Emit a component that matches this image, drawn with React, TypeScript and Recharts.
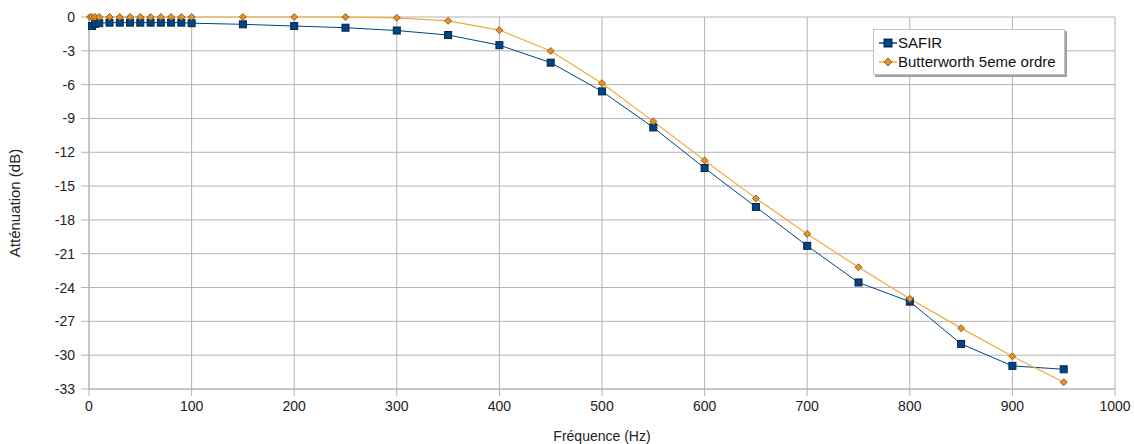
import { LineChart, Line, XAxis, YAxis, CartesianGrid } from 'recharts';

// Measured response of the SAFIR filter
const safirFreq = [3, 6, 10, 20, 30, 40, 50, 60, 70, 80, 90, 100, 150, 200, 250, 300, 350, 400, 450, 500, 550, 600, 650, 700, 750, 800, 850, 900, 950];
const safirDb = [-0.8, -0.6, -0.55, -0.5, -0.5, -0.5, -0.5, -0.5, -0.5, -0.5, -0.5, -0.55, -0.65, -0.8, -0.95, -1.2, -1.6, -2.5, -4.05, -6.6, -9.8, -13.4, -16.85, -20.3, -23.55, -25.25, -29.0, -30.95, -31.25];

// Reference 5th order Butterworth curve
const bwFreq = [1, 3, 6, 10, 20, 30, 40, 50, 60, 70, 80, 90, 100, 150, 200, 250, 300, 350, 400, 450, 500, 550, 600, 650, 700, 750, 800, 850, 900, 950];
const bwDb = [0, 0, 0, 0, 0, 0, 0, 0, 0, 0, 0, 0, 0, 0, 0, -0.01, -0.07, -0.34, -1.17, -3.01, -5.87, -9.26, -12.73, -16.09, -19.24, -22.2, -25.0, -27.6, -30.1, -32.4];

const xTicks = [0, 100, 200, 300, 400, 500, 600, 700, 800, 900, 1000];
const yTicks = [0, -3, -6, -9, -12, -15, -18, -21, -24, -27, -30, -33];

const safirData = safirFreq.map((f, i) => ({ f, db: safirDb[i] }));
const bwData = bwFreq.map((f, i) => ({ f, db: bwDb[i] }));

const FONT = '"Liberation Sans", Arial, sans-serif';
const GRID = '#b3b3b3';
const NAVY = '#004586';
const ORANGE = '#f2a93f';

const SquareDot = (props: any) => {
  const { cx, cy, index } = props;
  if (cx == null || cy == null) return null;
  return <rect key={`s-${index}`} x={cx - 3.5} y={cy - 3.5} width={7} height={7} fill={NAVY} stroke="#0a2440" strokeWidth={1} />;
};

const DiamondDot = (props: any) => {
  const { cx, cy, index } = props;
  if (cx == null || cy == null) return null;
  return (
    <path
      key={`d-${index}`}
      d={`M${cx},${cy - 3.5} L${cx + 3.5},${cy} L${cx},${cy + 3.5} L${cx - 3.5},${cy} Z`}
      fill="#e8902a"
      stroke="#7a4a10"
      strokeWidth={0.8}
    />
  );
};

// legend drawn as an overlay so the plot keeps its full width
const LegendBox = () => (
  <div
    style={{
      position: 'absolute',
      left: 873,
      top: 29,
      background: '#fff',
      border: '1px solid #c4c4c4',
      boxShadow: '2px 2px 0 #a0a0a0',
      padding: '3px 8px 3px 5px',
      fontFamily: FONT,
      fontSize: 15,
      color: '#111',
      lineHeight: '19px',
    }}
  >
    <div style={{ display: 'flex', alignItems: 'center' }}>
      <svg width={18} height={10} style={{ marginRight: 1 }}>
        <line x1={0} y1={5} x2={18} y2={5} stroke={NAVY} strokeWidth={1.5} />
        <rect x={5} y={1} width={8} height={8} fill={NAVY} stroke="#0a2440" />
      </svg>
      SAFIR
    </div>
    <div style={{ display: 'flex', alignItems: 'center' }}>
      <svg width={18} height={10} style={{ marginRight: 1 }}>
        <line x1={0} y1={5} x2={18} y2={5} stroke={ORANGE} strokeWidth={1.5} />
        <path d="M9,1 L13,5 L9,9 L5,5 Z" fill="#e8902a" stroke="#7a4a10" strokeWidth={0.8} />
      </svg>
      Butterworth 5eme ordre
    </div>
  </div>
);

export default function App() {
  return (
    <div style={{ position: 'fixed', left: 0, top: 0, width: 1134, height: 444, background: '#fff' }}>
      <LineChart width={1134} height={444} margin={{ top: 17, right: 19, left: 0, bottom: 0 }}>
        <CartesianGrid stroke={GRID} strokeWidth={1} horizontal vertical />
        <XAxis
          type="number"
          dataKey="f"
          domain={[0, 1000]}
          ticks={xTicks}
          allowDuplicatedCategory={false}
          height={55}
          tickSize={7}
          tickMargin={5}
          axisLine={{ stroke: GRID }}
          tickLine={{ stroke: GRID }}
          tick={{ fill: '#222', fontSize: 14, fontFamily: FONT }}
          label={{ value: 'Fréquence (Hz)', position: 'insideBottom', offset: 3, fill: '#222', fontSize: 14, fontFamily: FONT }}
        />
        <YAxis
          type="number"
          dataKey="db"
          domain={[-33, 0]}
          ticks={yTicks}
          width={89}
          tickSize={8}
          tickMargin={6}
          axisLine={{ stroke: GRID }}
          tickLine={{ stroke: GRID }}
          tick={{ fill: '#222', fontSize: 14, fontFamily: FONT }}
          label={{
            value: 'Atténuation (dB)',
            angle: -90,
            position: 'insideLeft',
            offset: 15,
            fill: '#222',
            fontSize: 15,
            fontFamily: FONT,
            style: { textAnchor: 'middle' },
          }}
        />
        <Line
          data={safirData}
          dataKey="db"
          name="SAFIR"
          stroke={NAVY}
          strokeWidth={1}
          dot={SquareDot}
          activeDot={false}
          isAnimationActive={false}
        />
        <Line
          data={bwData}
          dataKey="db"
          name="Butterworth 5eme ordre"
          stroke={ORANGE}
          strokeWidth={1.2}
          dot={DiamondDot}
          activeDot={false}
          isAnimationActive={false}
        />
      </LineChart>
      <LegendBox />
    </div>
  );
}
